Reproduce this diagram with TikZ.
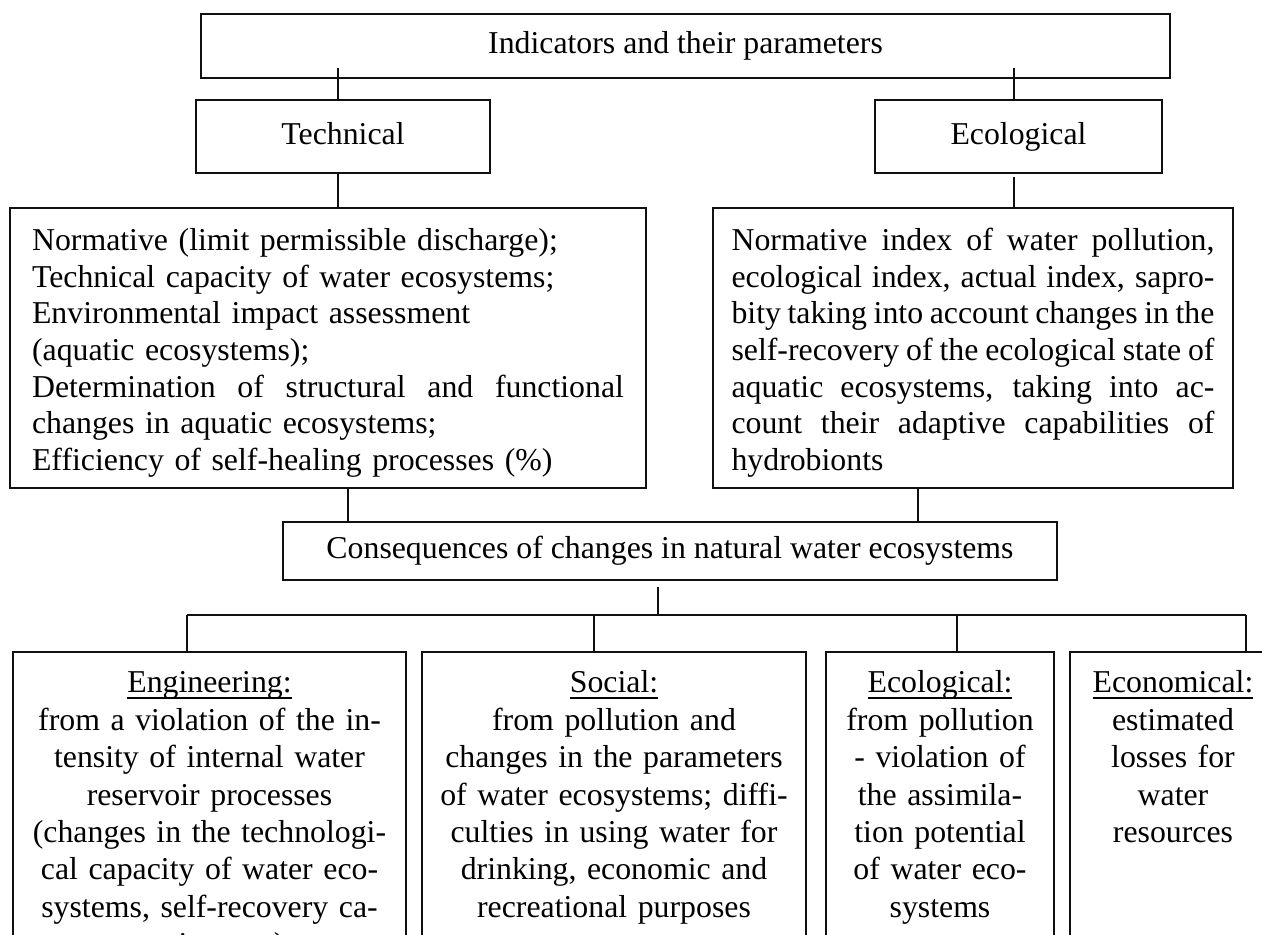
\documentclass[tikz,border=0pt]{standalone}
\usepackage{fontspec}
\setmainfont{Liberation Serif}
\usepackage{xcolor}
\definecolor{inkblack}{HTML}{111111}
\newcommand{\fillline}[1]{\leavevmode{\spaceskip=0.25em plus 1em minus 0.12em\hbox to\hsize{#1}}}
\newcommand{\undl}[1]{\leavevmode\setbox0\hbox{#1}\rlap{\rule[-0.2em]{\wd0}{0.06em}}\box0}

\begin{document}
\begin{tikzpicture}[x=0.02cm, y=-0.02cm,
		frame/.style={draw=inkblack, line width=1pt, font=\fontsize{18.1}{20.8}\selectfont},
		onebox/.style={frame, text height=0.42cm, text depth=0.1cm, inner sep=0pt},
		textbox/.style={frame, anchor=north, text height=0.45cm, inner ysep=0.41cm},
		kindbox/.style={textbox, font=\fontsize{18.1}{21.3}\selectfont, inner ysep=0.37cm, inner xsep=0.1cm, text depth=6.5cm, align=center},
		link/.style={draw=inkblack, line width=0.7pt},
		bus/.style={draw=inkblack, line width=0.9pt}]
		\useasboundingbox (0,0) rectangle (1262,935);
		\clip (0,0) rectangle (1262,935);
		% upper part
		\node[onebox, minimum width=19.38cm, minimum height=1.28cm] (top) at (685.5,46) {Indicators and their parameters};
		\node[onebox, minimum width=5.88cm, minimum height=1.46cm] (tech) at (343,136.5) {Technical};
		\node[onebox, minimum width=5.74cm, minimum height=1.46cm] (eco) at (1018.5,136.5) {Ecological};
		\node[textbox, text width=11.84cm, inner xsep=0.44cm, text depth=4.33cm, align=left] (techpar) at (328,207) {Normative (limit permissible discharge);\\
			Technical capacity of water ecosystems;\\
			Environmental impact assessment\\
			(aquatic ecosystems);\\
			\fillline{Determination of structural and functional}\\
			changes in aquatic ecosystems;\\
			Efficiency of self-healing processes (\%)};
		\node[textbox, text width=9.66cm, inner xsep=0.37cm, text depth=4.33cm, align=left] (ecopar) at (973,207) {\fillline{Normative index of water pollution,}\\
			\fillline{ecological index, actual index, sapro-}\\
			\fillline{bity taking into account changes in the}\\
			\fillline{self-recovery of the ecological state of}\\
			\fillline{aquatic ecosystems, taking into ac-}\\
			\fillline{count their adaptive capabilities of}\\
			hydrobionts};
		\node[onebox, minimum width=15.48cm, minimum height=1.16cm] (cons) at (670,551) {Consequences of changes in natural water ecosystems};
		% lower part
		\node[kindbox, text width=7.66cm] (engin) at (209.5,651) {\undl{Engineering:}\\
			from a violation of the in-\\
			tensity of internal water\\
			reservoir processes\\
			(changes in the technologi-\\
			cal capacity of water eco-\\
			systems, self-recovery ca-\\
			pacity, etc.)};
		\node[kindbox, text width=7.48cm] (social) at (614,651) {\undl{Social:}\\
			from pollution and\\
			changes in the parameters\\
			of water ecosystems; diffi-\\
			culties in using water for\\
			drinking, economic and\\
			recreational purposes};
		\node[kindbox, text width=4.36cm] (ecolog) at (940,651) {\undl{Ecological:}\\
			from pollution\\
			- violation of\\
			the assimila-\\
			tion potential\\
			of water eco-\\
			systems};
		\node[kindbox, text width=3.92cm] (econ) at (1173,651) {\undl{Economical:}\\
			estimated\\
			losses for\\
			water\\
			resources};
		% connectors
		\coordinate (ta) at (338,68);
		\coordinate (ea) at (1014,68);
		\coordinate (eb) at (1014,177);
		\coordinate (tc) at (348,500);
		\coordinate (ec) at (918,500);
		\coordinate (cd) at (658,587);
		\coordinate (b1) at (187,615);
		\coordinate (b2) at (594,615);
		\coordinate (b3) at (957,615);
		\coordinate (b4) at (1246,615);
		\draw[link] (ta) -- (ta |- tech.north);
		\draw[link] (ea) -- (ea |- eco.north);
		\draw[link] (tech.south -| ta) -- (ta |- techpar.north);
		\draw[link] (eb) -- (eb |- ecopar.north);
		\draw[link] (techpar.south -| tc) -- (tc |- cons.north);
		\draw[link] (ecopar.south -| ec) -- (ec |- cons.north);
		\draw[link] (cd) -- (cd |- b1);
		\draw[bus] (b1) -- (b4);
		\draw[link] (b1) -- (b1 |- engin.north);
		\draw[link] (b2) -- (b2 |- social.north);
		\draw[link] (b3) -- (b3 |- ecolog.north);
		\draw[link] (b4) -- (b4 |- econ.north);
	\end{tikzpicture}
\end{document}
